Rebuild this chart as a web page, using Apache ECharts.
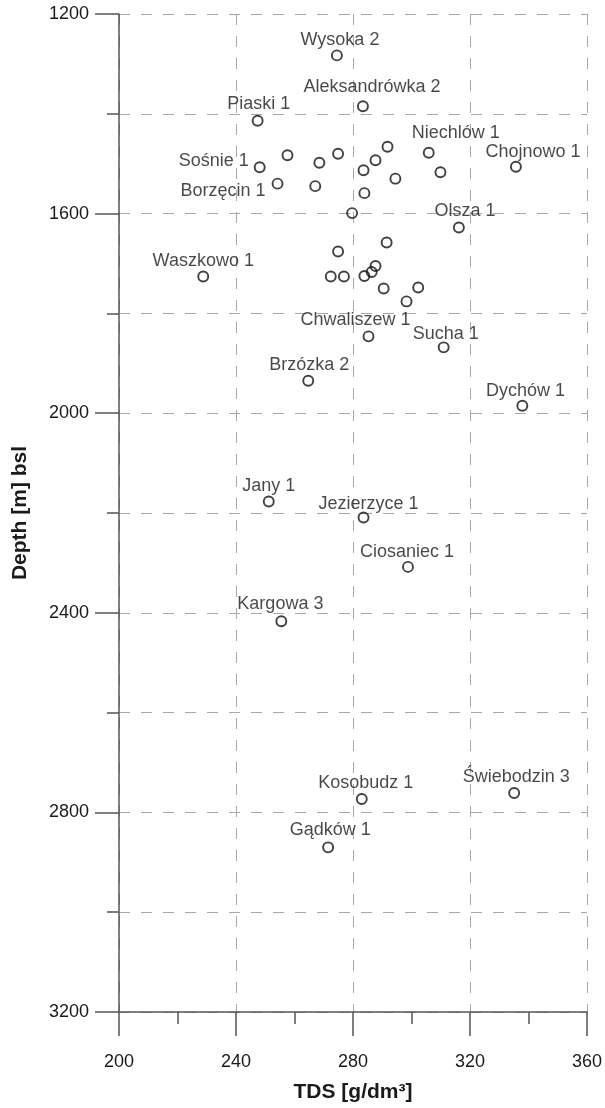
<!DOCTYPE html>
<html>
<head>
<meta charset="utf-8">
<script src="https://cdn.jsdelivr.net/npm/echarts@6/dist/echarts.min.js"></script>
<style>
  html, body { margin: 0; padding: 0; background: #fff; }
  #chart { width: 605px; height: 1108px; }
</style>
</head>
<body>
<div id="chart"></div>
<script>
// ---- data ----
const wellNames = [
  'Wysoka 2', 'Aleksandrówka 2', 'Piaski 1', 'Sośnie 1', '', '', '', '', '', '',
  'Borzęcin 1', '', '', '', '', 'Niechlów 1', '', 'Chojnowo 1', 'Olsza 1', '',
  '', '', '', '', '', '', '', '', '', 'Waszkowo 1',
  'Chwaliszew 1', 'Sucha 1', 'Brzózka 2', 'Dychów 1', 'Jany 1', 'Jezierzyce 1', 'Ciosaniec 1', 'Kargowa 3', 'Kosobudz 1', 'Świebodzin 3',
  'Gądków 1'
];
const tds = [
  274.5, 283.4, 247.4, 248.1, 257.6, 268.5, 274.9, 291.8, 287.7, 283.6,
  254.2, 267.1, 283.9, 279.7, 294.5, 305.9, 309.9, 335.7, 316.2, 291.5,
  274.9, 272.4, 276.9, 283.9, 286.4, 287.7, 290.5, 302.3, 298.3, 228.8,
  285.3, 311.0, 264.7, 337.9, 251.2, 283.6, 298.8, 255.5, 283.0, 335.1,
  271.5
];
const depth = [
  1283, 1385, 1414, 1507, 1483, 1498, 1480, 1466, 1493, 1513,
  1540, 1545, 1559, 1599, 1530, 1478, 1517, 1506, 1628, 1658,
  1676, 1726, 1726, 1725, 1717, 1705, 1750, 1748, 1776, 1726,
  1846, 1868, 1935, 1985, 2177, 2209, 2308, 2417, 2773, 2761,
  2870
];
const xAxisRange = [200, 360];
const xTickStep = 40;
const yAxisRange = [1200, 3200];
const yTickStep = 400;
const xTitle = 'TDS [g/dm³]';
const yTitle = 'Depth [m] bsl';

// ---- label layout (pixel offsets of label centre from marker centre) ----
const labelLayout = {
  'Wysoka 2': [4, -17],
  'Aleksandrówka 2': [10, -21],
  'Piaski 1': [2, -19],
  'Sośnie 1': [-10, -8, 'right'],
  'Borzęcin 1': [-11, 5, 'right'],
  'Niechlów 1': [28, -22],
  'Chojnowo 1': [18, -17],
  'Olsza 1': [7, -19],
  'Waszkowo 1': [1, -17],
  'Chwaliszew 1': [-12, -18],
  'Sucha 1': [3, -15],
  'Brzózka 2': [2, -18],
  'Dychów 1': [4, -17],
  'Jany 1': [1, -18],
  'Jezierzyce 1': [6, -16],
  'Ciosaniec 1': [0, -17],
  'Kargowa 3': [0, -19],
  'Kosobudz 1': [5, -18],
  'Świebodzin 3': [3, -18],
  'Gądków 1': [3, -19]
};
const LABEL_SHIFT_Y = 3; // glyph visual centre vs text box centre

const FONT = 'Arial, "Liberation Sans", Helvetica, sans-serif';
const TEXT = '#1a1a1a';
const AXIS = '#555';
const GRID = '#a8a8a8';
const SYMBOL = 10;
const HALF = SYMBOL / 2;

const points = tds.map((x, i) => {
  const name = wellNames[i];
  const lay = labelLayout[name];
  const item = { value: [x, depth[i]], name: name };
  if (name && lay) {
    item.label = {
      show: true,
      position: [HALF + lay[0], HALF + lay[1] + LABEL_SHIFT_Y],
      align: lay[2] || 'center',
      verticalAlign: 'middle'
    };
  } else {
    item.label = { show: false };
  }
  return item;
});

const chart = echarts.init(document.getElementById('chart'), null, { renderer: 'canvas' });
chart.setOption({
  backgroundColor: '#fff',
  animation: false,
  grid: { left: 119, right: 14, top: 14, bottom: 94, containLabel: false },
  xAxis: {
    type: 'value',
    min: xAxisRange[0], max: xAxisRange[1], interval: xTickStep,
    name: xTitle,
    nameLocation: 'middle',
    nameGap: 70,
    nameTextStyle: { fontFamily: FONT, fontSize: 21, fontWeight: 'bold', color: TEXT },
    axisLine: { show: true, onZero: false, lineStyle: { color: AXIS, width: 1.5 } },
    axisTick: { show: true, inside: false, length: 24, lineStyle: { color: AXIS, width: 1.5 } },
    minorTick: { show: true, splitNumber: 2, length: 12, lineStyle: { color: AXIS, width: 1.5 } },
    axisLabel: { fontFamily: FONT, fontSize: 18, color: TEXT, margin: 41, formatter: v => String(v) },
    splitLine: { show: true, lineStyle: { color: GRID, width: 1, type: [11, 11] } },
    minorSplitLine: { show: false }
  },
  yAxis: {
    type: 'value',
    inverse: true,
    min: yAxisRange[0], max: yAxisRange[1], interval: yTickStep,
    name: yTitle,
    nameLocation: 'middle',
    nameGap: 88,
    nameRotate: 90,
    nameTextStyle: { fontFamily: FONT, fontSize: 21, fontWeight: 'bold', color: TEXT },
    axisLine: { show: true, onZero: false, lineStyle: { color: AXIS, width: 1.5 } },
    axisTick: { show: true, inside: false, length: 24, lineStyle: { color: AXIS, width: 1.5 } },
    minorTick: { show: true, splitNumber: 2, length: 12, lineStyle: { color: AXIS, width: 1.5 } },
    axisLabel: { fontFamily: FONT, fontSize: 18, color: TEXT, margin: 30, formatter: v => String(v) },
    splitLine: { show: true, lineStyle: { color: GRID, width: 1, type: [11, 11] } },
    minorSplitLine: { show: true, lineStyle: { color: GRID, width: 1, type: [11, 11] } }
  },
  series: [{
    type: 'scatter',
    symbol: 'circle',
    symbolSize: SYMBOL,
    itemStyle: { color: 'rgba(255,255,255,0)', borderColor: '#111', borderWidth: 1.9 },
    label: {
      show: true,
      formatter: '{b}',
      fontFamily: FONT,
      fontSize: 18,
      color: TEXT
    },
    labelLayout: { hideOverlap: false },
    emphasis: { disabled: true },
    data: points
  }]
});
</script>
</body>
</html>
